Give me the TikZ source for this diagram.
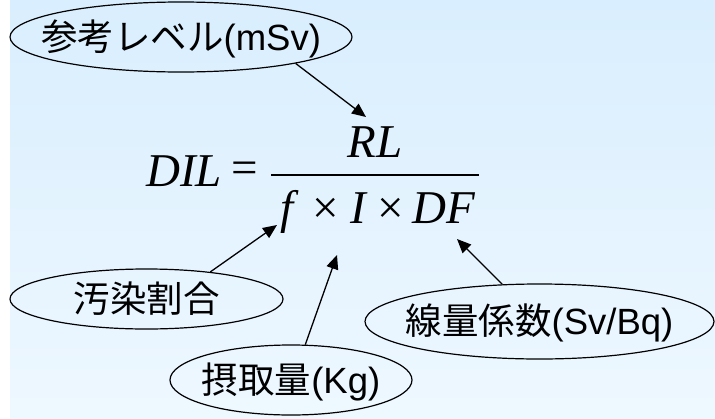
\documentclass[tikz,border=0pt]{standalone}
\usepackage{fontspec}
\setmainfont{Liberation Sans}
\newfontfamily\jp{Noto Sans CJK JP}
\newfontfamily\tms{Liberation Serif}
\usetikzlibrary{shapes.geometric,arrows.meta}
\definecolor{bgtop}{RGB}{217,238,254}
\definecolor{bgbot}{RGB}{238,248,255}
\newcommand{\lbltext}[1]{\smash{\raisebox{-0.36em}{\makebox[0pt]{#1}}}}
\tikzset{
  label/.style={ellipse,draw=black,line width=1.2pt,inner sep=0pt,font=\fontsize{36.5}{40}\selectfont},
  eq/.style={inner sep=0pt,font=\tms\fontsize{47}{52}\selectfont},
  conn/.style={line width=1.3pt,-{Triangle[length=14pt,width=12pt]}}
}
\begin{document}
\begin{tikzpicture}[x=1pt,y=-1pt]
\useasboundingbox (0,0) rectangle (715,418);
\fill[white] (0,0) rectangle (715,418);
\shade[top color=bgtop,bottom color=bgbot] (10,0) rectangle (715,418);
% ellipses
\node[label,minimum width=342pt,minimum height=70pt] (e1) at (181,37) {\lbltext{{\jp 参考レベル}(mSv)}};
\node[label,minimum width=273pt,minimum height=60pt] (e2) at (146.5,299) {\lbltext{\jp 汚染割合}};
\node[label,minimum width=242pt,minimum height=70pt] (e3) at (291,380) {\lbltext{{\jp 摂取量}(Kg)}};
\node[label,minimum width=349pt,minimum height=75pt] (e4) at (539.5,321.5) {\lbltext{{\jp 線量係数}(Sv/Bq)}};
% formula
\node[eq,anchor=base west] (dil) at (146,186) {\itshape DIL};
\node[eq] (eqs) at (245,173) {=};
\coordinate (barl) at (271,175);
\coordinate (barr) at (479,175);
\draw[line width=1.5pt] (barl) -- (barr);
\node[eq,anchor=base] (rl) at (375,157) {\itshape RL};
\node[eq,anchor=base west] (f) at (280,223) {\itshape f};
\node[eq,anchor=base] (x1) at (326,223) {×};
\node[eq,anchor=base west] (i) at (350,223) {\itshape I};
\node[eq,anchor=base] (x2) at (391,223) {×};
\node[eq,anchor=base west] (df) at (412,223) {\itshape DF};
% arrow tips
\coordinate (t1) at (366,117);
\coordinate (t2) at (277,225);
\coordinate (t3) at (337,255);
\coordinate (t4) at (457,239);
\draw[conn] (e1.-13) -- (t1);
\draw[conn] (e2.23.5) -- (t2);
\draw[conn] (e3.68) -- (t3);
\draw[conn] (e4.135) -- (t4);
\end{tikzpicture}
\end{document}
